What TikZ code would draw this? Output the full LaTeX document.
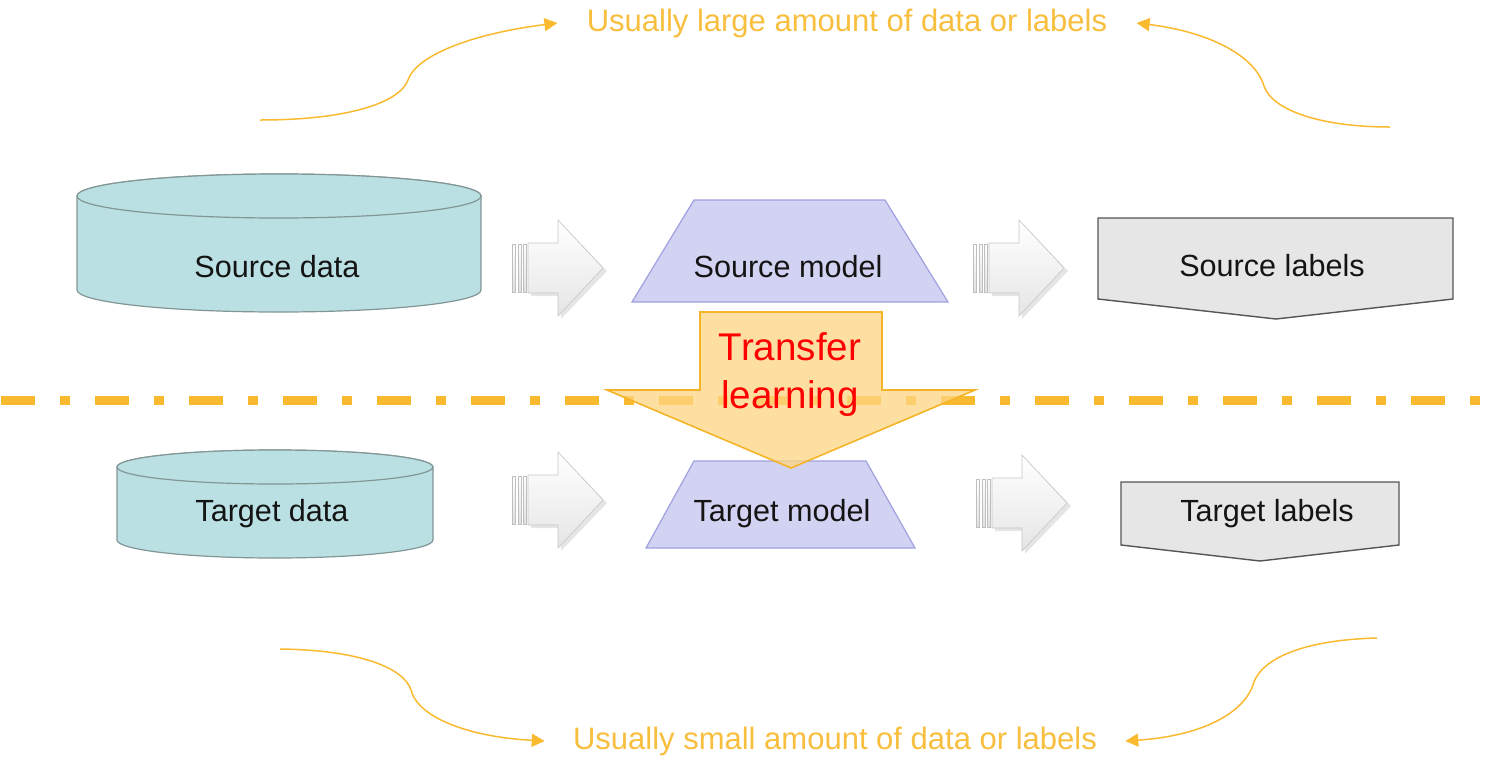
\documentclass[tikz,border=0pt]{standalone}
\usepackage{fontspec}
\setmainfont{Liberation Sans}
\usetikzlibrary{arrows.meta}
\definecolor{orng}{RGB}{250,186,48}
\definecolor{orngtxt}{RGB}{248,190,62}
\definecolor{cyl}{RGB}{187,224,227}
\definecolor{cylline}{RGB}{130,150,150}
\definecolor{trap}{RGB}{210,210,242}
\definecolor{trapline}{RGB}{160,160,225}
\definecolor{lab}{RGB}{230,230,230}
\definecolor{labline}{RGB}{85,85,85}
\definecolor{tfill}{RGB}{253,214,130}
\definecolor{tline}{RGB}{245,180,40}
\tikzset{
  txt/.style={font=\fontsize{15.3}{18}\selectfont, text=black!92, inner sep=0pt},
  note/.style={font=\fontsize{15.5}{18}\selectfont, text=orngtxt, inner sep=0pt},
  cylshape/.style={fill=cyl, draw=cylline, line width=0.6pt},
  trapshape/.style={fill=trap, draw=trapline, line width=0.6pt},
  labshape/.style={fill=lab, draw=labline, line width=0.7pt},
  curvy/.style={draw=orng, line width=0.75pt, -{Triangle[length=6.5pt,width=6.5pt]}},
  blockarr/.pic={
    \fill[black, opacity=0.10] (19,-22) -- (49,-22) -- (49,-45) -- (95,3) -- (49,51) -- (49,28) -- (19,28) -- cycle;
    \shade[top color=white, bottom color=black!10, draw=black!22, line width=0.3pt]
      (16,-25) -- (46,-25) -- (46,-48) -- (91,0) -- (46,48) -- (46,25) -- (16,25) -- cycle;
    \foreach \a/\b in {0/3,6/9,11/14}{
      \shade[top color=white, bottom color=black!12, draw=black!25, line width=0.3pt] (\a,-24) rectangle (\b,24);
    }
  }
}
\begin{document}
\begin{tikzpicture}[x=0.5pt,y=-0.5pt]
\useasboundingbox (0,0) rectangle (1496,767);

% notes
\node[note] (top) at (847,23) {Usually large amount of data or labels};
\node[note] (bot) at (835,741) {Usually small amount of data or labels};
\coordinate (tl) at (260,120);
\coordinate (tr) at (1390,127);
\coordinate (bl) at (280,649);
\coordinate (br) at (1377,638);
\draw[curvy] (tl) .. controls (350,120) and (400,102) .. (408,80) .. controls (416,56) and (470,34) .. ([xshift=-14.5pt]top.west);
\draw[curvy] (tr) .. controls (1320,127) and (1272,110) .. (1264,86) .. controls (1255,56) and (1210,32) .. ([xshift=14.5pt]top.east);
\draw[curvy] (bl) .. controls (360,650) and (404,668) .. (411,690) .. controls (418,718) and (470,737) .. ([xshift=-14pt]bot.west);
\draw[curvy] (br) .. controls (1300,640) and (1262,660) .. (1254,682) .. controls (1245,714) and (1200,736) .. ([xshift=14pt]bot.east);

% source data cylinder
\path[cylshape] (77,196) -- (77,290) arc[start angle=180,end angle=0,x radius=202,y radius=22] -- (481,196) arc[start angle=0,end angle=-180,x radius=202,y radius=22] -- cycle;
\draw[cylshape] (279,196) ellipse[x radius=202,y radius=22];
\node[txt] (sd) at (277,267) {Source data};

% target data cylinder
\path[cylshape] (117,467) -- (117,540) arc[start angle=180,end angle=0,x radius=158,y radius=18] -- (433,467) arc[start angle=0,end angle=-180,x radius=158,y radius=17] -- cycle;
\draw[cylshape] (275,467) ellipse[x radius=158,y radius=17];
\node[txt] (td) at (272,514) {Target data};

% models
\path[trapshape] (694,200) -- (885,200) -- (948,302) -- (632,302) -- cycle;
\node[txt] (sm) at (788,267) {Source model};
\path[trapshape] (694,461) -- (866,461) -- (915,548) -- (646,548) -- cycle;
\node[txt] (tm) at (782,514) {Target model};

% labels
\path[labshape] (1098,218) -- (1453,218) -- (1453,299) -- (1276,319) -- (1098,299) -- cycle;
\node[txt] (sl) at (1272,266) {Source labels};
\path[labshape] (1121,482) -- (1399,482) -- (1399,545) -- (1260,561) -- (1121,545) -- cycle;
\node[txt] (tlb) at (1267,514) {Target labels};

% block arrows
\pic at (512,268) {blockarr};
\pic at (512,500) {blockarr};
\pic at (973,268) {blockarr};
\pic at (976,503) {blockarr};

% dash-dot line
\draw[orng, line width=4.5pt, dash pattern=on 17pt off 12.5pt on 5pt off 12.5pt] (1,400) -- (1480,400);

% transfer arrow
\path[fill=tfill, fill opacity=0.75, draw=tline, line width=0.8pt]
  (700,312) -- (882,312) -- (882,390) -- (975,390) -- (791,468) -- (607,390) -- (700,390) -- cycle;
\node[font=\fontsize{19.3}{24}\selectfont, text=red, align=center, inner sep=0pt] (tl2) at (790,375) {Transfer\\learning};
\end{tikzpicture}
\end{document}
